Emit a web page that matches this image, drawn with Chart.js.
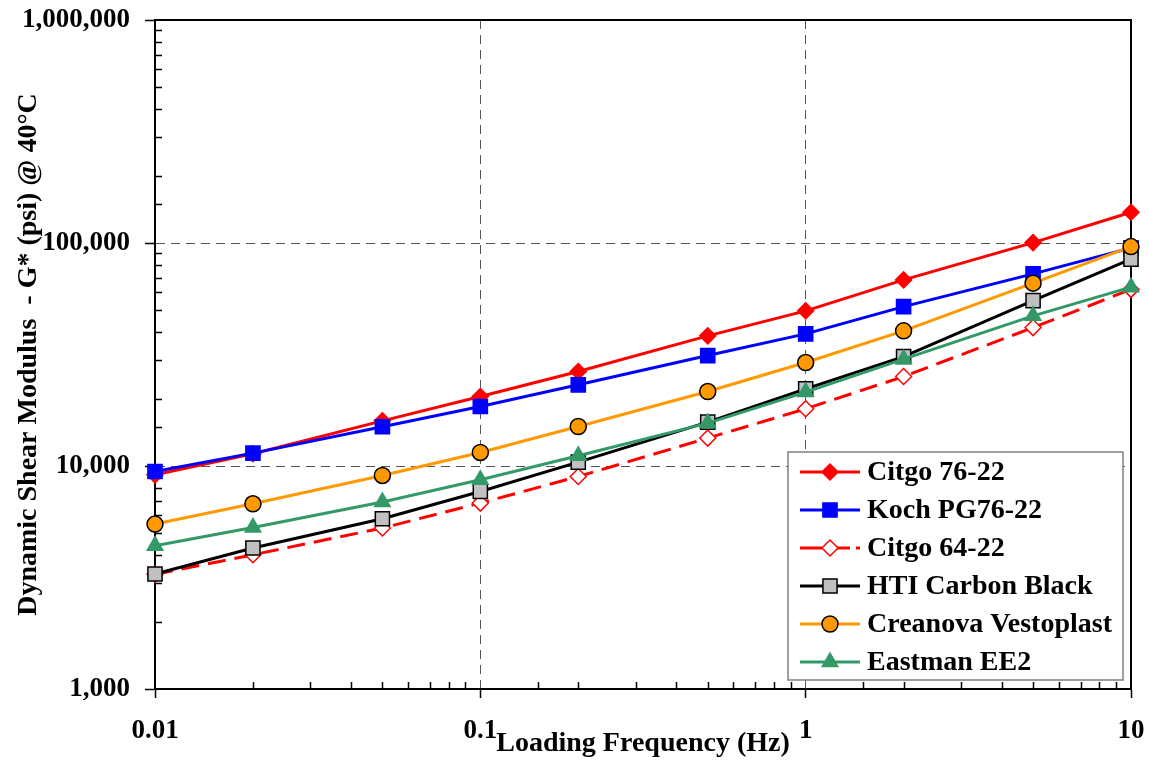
<!DOCTYPE html>
<html>
<head>
<meta charset="utf-8">
<title>Dynamic Shear Modulus vs Loading Frequency</title>
<script src="https://cdn.jsdelivr.net/npm/chart.js@4.4.0/dist/chart.umd.min.js"></script>
<style>
    html, body { margin: 0; padding: 0; background: #fff; }
    #wrap { width: 1149px; height: 772px; }
</style>
</head>
<body>
<div id="wrap"><canvas id="modulusChart" width="1149" height="772"></canvas></div>
<script>
// Loading frequency (Hz)
const frequencies = [0.01, 0.02, 0.05, 0.1, 0.2, 0.5, 1, 2, 5, 10];

// G* (psi) @ 40C
const citgo7622   = [9130, 11350, 15940, 20490, 26530, 38340, 49620, 68330, 100400, 137400];
const kochPG7622  = [9450, 11420, 14990, 18480, 23120, 31280, 39130, 51860, 72690, 95060];
const citgo6422   = [3270, 4000, 5270, 6820, 8970, 13340, 18050, 25190, 41760, 61940];
const htiCarbon   = [3280, 4290, 5800, 7690, 10410, 15730, 22180, 30960, 55180, 84600];
const vestoplast  = [5490, 6770, 9070, 11500, 15030, 21580, 29100, 40360, 66040, 96360];
const eastmanEE2  = [4390, 5300, 6890, 8670, 11110, 15570, 21450, 30140, 47130, 63380];

const seriesNames = ['Citgo 76-22', 'Koch PG76-22', 'Citgo 64-22',
                     'HTI Carbon Black', 'Creanova Vestoplast', 'Eastman EE2'];

// Labelled ticks
const xTickLabels = ['0.01', '0.1', '1', '10'];
const yTickLabels = ['1,000', '10,000', '100,000', '1,000,000'];

const FONT = "'Liberation Serif', 'Times New Roman', serif";
Chart.defaults.font.family = FONT;
Chart.defaults.color = '#000';

function toPoints(values) {
    return frequencies.map((f, i) => ({ x: f, y: values[i] }));
}

function isDecade(v) {
    const l = Math.log10(v);
    return Math.abs(l - Math.round(l)) < 1e-6;
}

// Series styles
const styles = [
    { color: '#FF0000', fill: '#FF0000', edge: '#FF0000', shape: 'rectRot',  radius: 8,  dash: [] },
    { color: '#0000FF', fill: '#0000FF', edge: '#0000FF', shape: 'rect',     radius: 10, dash: [] },
    { color: '#FF0000', fill: '#FFFFFF', edge: '#FF0000', shape: 'rectRot',  radius: 8,  dash: [18, 9] },
    { color: '#000000', fill: '#C0C0C0', edge: '#000000', shape: 'rect',     radius: 10, dash: [] },
    { color: '#FF9900', fill: '#FF9900', edge: '#000000', shape: 'circle',   radius: 8,  dash: [] },
    { color: '#339966', fill: '#339966', edge: '#339966', shape: 'triangle', radius: 9,  dash: [] }
];

const seriesValues = [citgo7622, kochPG7622, citgo6422, htiCarbon, vestoplast, eastmanEE2];

const datasets = seriesValues.map((vals, i) => ({
    label: seriesNames[i],
    data: toPoints(vals),
    borderColor: styles[i].color,
    borderWidth: 3,
    borderDash: styles[i].dash,
    pointStyle: styles[i].shape,
    pointRadius: styles[i].radius,
    pointBackgroundColor: styles[i].fill,
    pointBorderColor: styles[i].edge,
    pointBorderWidth: 1.5,
    tension: 0,
    clip: false,
    order: seriesValues.length - i   // later series drawn on top
}));

// Minor ticks inside, plus the top and right frame lines
const framePlugin = {
    id: 'frame',
    beforeDatasetsDraw(chart) {
        const { ctx, chartArea: a, scales } = chart;
        ctx.save();
        ctx.strokeStyle = '#000';
        ctx.lineWidth = 1.5;
        ctx.beginPath();
        scales.x.ticks.forEach(t => {
            if (isDecade(t.value)) return;
            const px = Math.round(scales.x.getPixelForValue(t.value)) + 0.5;
            ctx.moveTo(px, a.bottom);
            ctx.lineTo(px, a.bottom - 7);
        });
        scales.y.ticks.forEach(t => {
            if (isDecade(t.value)) return;
            const py = Math.round(scales.y.getPixelForValue(t.value)) + 0.5;
            ctx.moveTo(a.left, py);
            ctx.lineTo(a.left + 7, py);
        });
        ctx.stroke();

        ctx.lineWidth = 2;
        ctx.beginPath();
        ctx.moveTo(a.left, a.top);
        ctx.lineTo(a.right, a.top);
        ctx.lineTo(a.right, a.bottom);
        ctx.stroke();
        ctx.restore();
    }
};

// Legend box sitting inside the plot, lower right
const insideLegend = {
    id: 'insideLegend',
    afterDatasetsDraw(chart) {
        const { ctx, chartArea: a } = chart;
        const w = 335, h = 228;
        const right = a.right - 8, bottom = a.bottom - 9;
        const left = right - w, top = bottom - h;

        ctx.save();
        ctx.fillStyle = '#fff';
        ctx.fillRect(left, top, w, h);
        ctx.strokeStyle = '#808080';
        ctx.lineWidth = 1.5;
        ctx.strokeRect(left, top, w, h);

        chart.data.datasets.forEach((ds, i) => {
            const y = top + 20 + i * 38;
            const x0 = left + 12, x1 = left + 72, xm = (x0 + x1) / 2;

            ctx.save();
            ctx.strokeStyle = ds.borderColor;
            ctx.lineWidth = 3;
            if (ds.borderDash.length) ctx.setLineDash([22, 6]);
            ctx.beginPath();
            ctx.moveTo(x0, y);
            ctx.lineTo(x1, y);
            ctx.stroke();
            ctx.restore();

            ctx.save();
            ctx.fillStyle = ds.pointBackgroundColor;
            ctx.strokeStyle = ds.pointBorderColor;
            ctx.lineWidth = ds.pointBorderWidth;
            Chart.helpers.drawPoint(ctx, {
                pointStyle: ds.pointStyle,
                radius: ds.pointRadius,
                rotation: 0,
                borderWidth: ds.pointBorderWidth
            }, xm, y);
            ctx.restore();

            ctx.fillStyle = '#000';
            ctx.font = 'bold 28px ' + FONT;
            ctx.textBaseline = 'middle';
            ctx.textAlign = 'left';
            ctx.fillText(ds.label, left + 79, y + 1);
        });
        ctx.restore();
    }
};

function initChart() {
    const ctx = document.getElementById('modulusChart').getContext('2d');
    new Chart(ctx, {
        type: 'line',
        data: { datasets: datasets },
        options: {
            responsive: false,
            animation: false,
            devicePixelRatio: 1,
            layout: { padding: { top: 20, right: 18, bottom: 0, left: 0 } },
            plugins: {
                legend: { display: false },
                tooltip: { enabled: false }
            },
            scales: {
                x: {
                    type: 'logarithmic',
                    min: 0.01,
                    max: 10,
                    afterFit: s => {
                        s.height = 83;
                        s.paddingLeft = 0;
                        s.paddingRight = 0;
                    },
                    border: { display: true, color: '#000', width: 2, dash: [9, 6] },
                    grid: {
                        drawOnChartArea: true,
                        color: c => (c.tick && isDecade(c.tick.value) && c.tick.value > 0.01 && c.tick.value < 10) ? '#555' : 'rgba(0,0,0,0)',
                        lineWidth: 1,
                        tickLength: 9,
                        tickWidth: 1.5,
                        tickColor: c => (c.tick && isDecade(c.tick.value)) ? '#000' : 'rgba(0,0,0,0)'
                    },
                    ticks: {
                        autoSkip: false,
                        maxRotation: 0,
                        padding: 17,
                        font: { size: 27, weight: 'bold' },
                        callback: v => {
                            const s = String(Number(Number(v).toPrecision(6)));
                            return xTickLabels.includes(s) ? s : '';
                        }
                    },
                    title: {
                        display: true,
                        text: 'Loading Frequency (Hz)',
                        font: { size: 28, weight: 'bold' },
                        padding: { top: 0, bottom: 11 }
                    }
                },
                y: {
                    type: 'logarithmic',
                    min: 1000,
                    max: 1000000,
                    afterFit: s => {
                        s.width = 155;
                        s.paddingTop = 0;
                        s.paddingBottom = 0;
                    },
                    border: { display: true, color: '#000', width: 2, dash: [9, 6] },
                    grid: {
                        color: c => (c.tick && isDecade(c.tick.value) && c.tick.value > 1000 && c.tick.value < 1000000) ? '#555' : 'rgba(0,0,0,0)',
                        lineWidth: 1,
                        tickLength: 10,
                        tickWidth: 1.5,
                        tickColor: c => (c.tick && isDecade(c.tick.value)) ? '#000' : 'rgba(0,0,0,0)'
                    },
                    ticks: {
                        autoSkip: false,
                        padding: 15,
                        font: { size: 27, weight: 'bold' },
                        callback: v => {
                            const s = Math.round(v).toLocaleString('en-US');
                            return yTickLabels.includes(s) ? s : '';
                        }
                    },
                    title: {
                        display: true,
                        text: 'Dynamic Shear Modulus  - G* (psi) @ 40\u00B0C',
                        font: { size: 28, weight: 'bold' },
                        padding: { top: 12, bottom: 0 }
                    }
                }
            }
        },
        plugins: [framePlugin, insideLegend]
    });
}

document.addEventListener('DOMContentLoaded', initChart);
</script>
</body>
</html>
